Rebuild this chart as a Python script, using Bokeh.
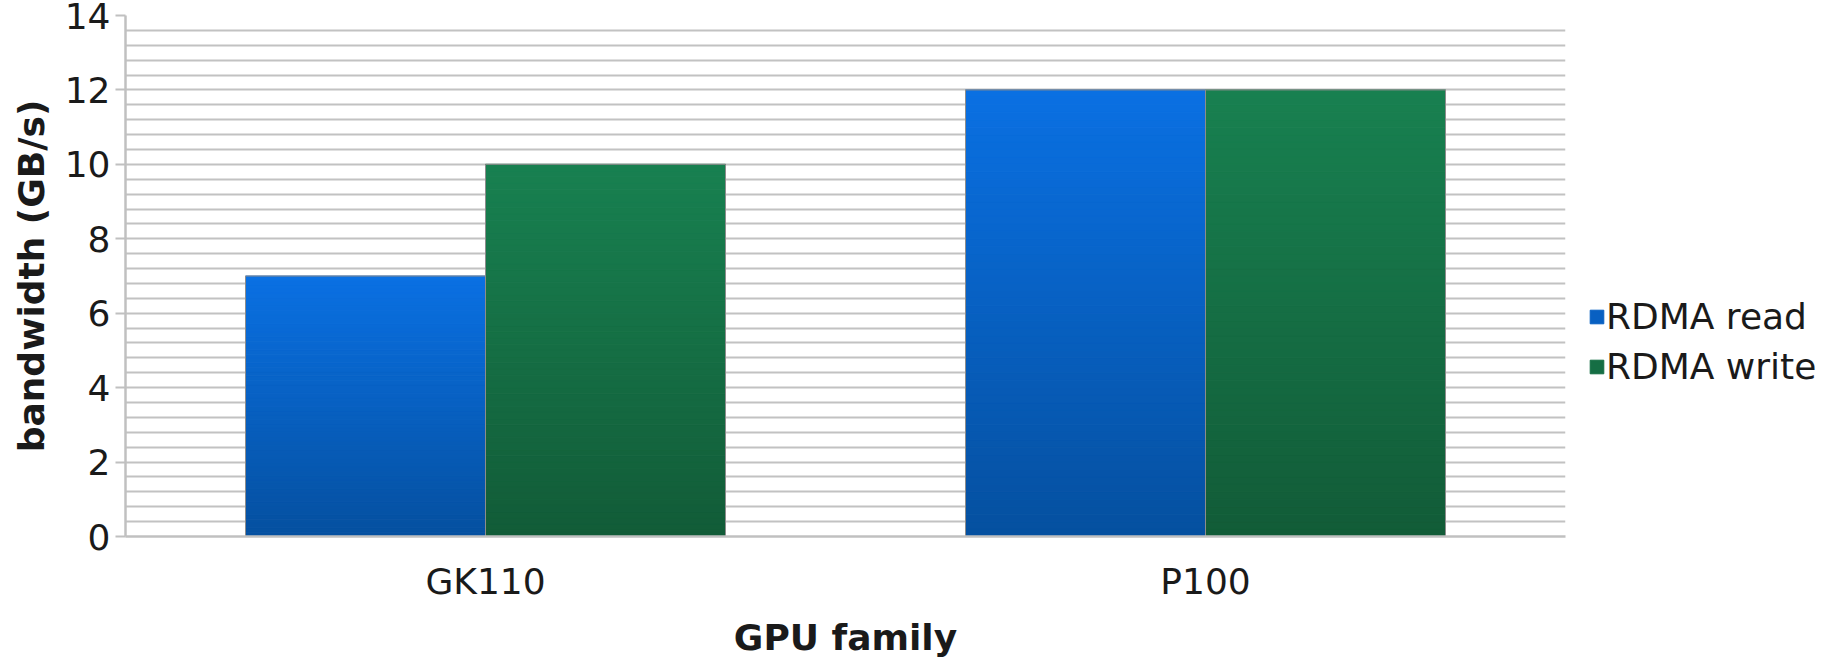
from bokeh.plotting import figure
from bokeh.models import (FactorRange, Range1d, ColumnDataSource, Legend, LegendItem,
                          SingleIntervalTicker, FixedTicker)
from bokeh.transform import dodge
from bokeh.embed import file_html
from bokeh.resources import INLINE

# ---- data ----
categories = ["GK110", "P100"]
rdma_read = [7, 12]
rdma_write = [10, 12]
series_names = ["RDMA read", "RDMA write"]
y_ticks = [0, 2, 4, 6, 8, 10, 12, 14]

# ---- style ----
FONT = "DejaVu Sans"
FS = "36px"
blue_top, blue_bot = (10, 112, 226), (5, 80, 160)
green_top, green_bot = (24, 128, 80), (18, 92, 56)
N = 60


def hexc(c):
    return "#%02x%02x%02x" % tuple(int(round(v)) for v in c)


def gradient_source(values, top_c, bot_c):
    xs, bots, tops, cols = [], [], [], []
    for cat, v in zip(categories, values):
        for i in range(N):
            t = i / (N - 1)
            c = [bot_c[k] + (top_c[k] - bot_c[k]) * t for k in range(3)]
            xs.append(cat)
            bots.append(v * i / N)
            tops.append(v * (i + 1) / N)
            cols.append(hexc(c))
    return ColumnDataSource(dict(x=xs, bottom=bots, top=tops, color=cols))


p = figure(x_range=FactorRange(factors=categories, range_padding=0),
           y_range=Range1d(0, 14),
           frame_width=1440, frame_height=521,
           min_border_left=100, min_border_top=15, min_border_bottom=105, min_border_right=270,
           margin=(0, 0, 0, 7),
           output_backend="svg", toolbar_location=None, background_fill_color="white",
           border_fill_color="white")
p.outline_line_color = None

# grid
p.xgrid.grid_line_color = None
p.ygrid.ticker = SingleIntervalTicker(interval=0.4)
p.ygrid.grid_line_color = "#c2c2c2"
p.ygrid.grid_line_width = 2

# bars with vertical gradient
src_r = gradient_source(rdma_read, blue_top, blue_bot)
src_w = gradient_source(rdma_write, green_top, green_bot)
r_read = p.vbar(x=dodge("x", -1 / 6, range=p.x_range), bottom="bottom", top="top", width=1 / 3,
                source=src_r, fill_color="color", line_color="color", line_width=1)
r_write = p.vbar(x=dodge("x", 1 / 6, range=p.x_range), bottom="bottom", top="top", width=1 / 3,
                 source=src_w, fill_color="color", line_color="color", line_width=1)
outline = ColumnDataSource(dict(x=categories, r=rdma_read, w=rdma_write))
p.vbar(x=dodge("x", -1 / 6, range=p.x_range), top="r", width=1 / 3, source=outline,
       fill_alpha=0, line_color="#8c8c8c", line_width=1)
p.vbar(x=dodge("x", 1 / 6, range=p.x_range), top="w", width=1 / 3, source=outline,
       fill_alpha=0, line_color="#8c8c8c", line_width=1)

# axes
p.yaxis.ticker = FixedTicker(ticks=y_ticks)
p.yaxis.minor_tick_line_color = None
p.yaxis.major_tick_in = 0
p.yaxis.major_tick_out = 10
p.yaxis.major_tick_line_color = "#c0c0c0"
p.yaxis.major_tick_line_width = 2
p.yaxis.axis_line_color = "#c0c0c0"
p.yaxis.axis_line_width = 2.5
p.yaxis.major_label_text_font = FONT
p.yaxis.major_label_text_font_size = FS
p.yaxis.major_label_text_color = "#1a1a1a"
p.yaxis.major_label_standoff = 5
p.yaxis.axis_label = "bandwidth (GB/s)"
p.yaxis.axis_label_text_font = FONT
p.yaxis.axis_label_text_font_size = FS
p.yaxis.axis_label_text_font_style = "bold"
p.yaxis.axis_label_text_color = "#1a1a1a"
p.yaxis.axis_label_standoff = 10

p.xaxis.major_tick_line_color = None
p.xaxis.minor_tick_line_color = None
p.xaxis.axis_line_color = "#c0c0c0"
p.xaxis.axis_line_width = 2.5
p.xaxis.major_label_text_font = FONT
p.xaxis.major_label_text_font_size = FS
p.xaxis.major_label_text_color = "#1a1a1a"
p.xaxis.major_label_standoff = 18
p.xaxis.axis_label = "GPU family"
p.xaxis.axis_label_text_font = FONT
p.xaxis.axis_label_text_font_size = FS
p.xaxis.axis_label_text_font_style = "bold"
p.xaxis.axis_label_text_color = "#1a1a1a"
p.xaxis.axis_label_standoff = 12

# legend
legend = Legend(items=[LegendItem(label=series_names[0], renderers=[r_read], index=N // 2),
                       LegendItem(label=series_names[1], renderers=[r_write], index=N // 2)],
                location=(23, 149), margin=0, padding=0, spacing=9,
                glyph_width=17, glyph_height=17, label_height=40, label_standoff=1,
                label_text_font=FONT, label_text_font_size=FS, label_text_color="#1a1a1a",
                border_line_color=None, background_fill_alpha=0)
p.add_layout(legend, "right")

open("out.html", "w").write(file_html(p, INLINE))
